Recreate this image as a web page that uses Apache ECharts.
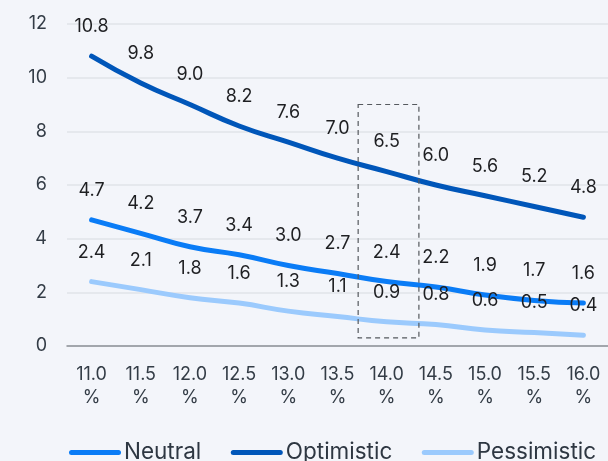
<!DOCTYPE html>
<html>
<head>
<meta charset="utf-8">
<script src="https://cdn.jsdelivr.net/npm/echarts@6/dist/echarts.min.js"></script>
<style>
html,body{margin:0;padding:0;background:#f3f5fa;}
#c{width:608px;height:461px;}
</style>
</head>
<body>
<div id="c"></div>
<script>
const categories = ["11.0%","11.5%","12.0%","12.5%","13.0%","13.5%","14.0%","14.5%","15.0%","15.5%","16.0%"];
const neutral     = [4.7, 4.2, 3.7, 3.4, 3.0, 2.7, 2.4, 2.2, 1.9, 1.7, 1.6];
const optimistic  = [10.8, 9.8, 9.0, 8.2, 7.6, 7.0, 6.5, 6.0, 5.6, 5.2, 4.8];
const pessimistic = [2.4, 2.1, 1.8, 1.6, 1.3, 1.1, 0.9, 0.8, 0.6, 0.5, 0.4];
const yTicks = [0, 2, 4, 6, 8, 10, 12];
const highlightCategory = "14.0%";
const highlightRange = [0.3, 9.0];

const FONT = "Inter";
const chart = echarts.init(document.getElementById('c'), null, {renderer: 'canvas'});

function lineSeries(name, data, color) {
  return {
    name: name,
    type: 'line',
    data: data,
    smooth: true,
    symbol: 'circle',
    symbolSize: 1,
    showSymbol: true,
    lineStyle: {color: color, width: 5, cap: 'round'},
    itemStyle: {color: color},
    label: {
      show: true,
      position: 'top',
      distance: 20,
      color: '#1e1f22',
      fontFamily: FONT,
      fontSize: 18,
      formatter: p => p.value.toFixed(1)
    },
    emphasis: {disabled: true}
  };
}

const legendIcon = 'path://M2.5,0 H49.5 A2.5,2.5 0 0 1 49.5,5 H2.5 A2.5,2.5 0 0 1 2.5,0 Z';

chart.setOption({
  backgroundColor: '#f3f5fa',
  animation: false,
  grid: {left: 67, top: 24, width: 542, bottom: 115, containLabel: false},
  xAxis: {
    type: 'category',
    data: categories,
    boundaryGap: true,
    axisLine: {show: true, lineStyle: {color: '#8c9096', width: 1.5}},
    axisTick: {show: false},
    axisLabel: {
      color: '#333c46',
      fontFamily: FONT,
      fontSize: 18,
      lineHeight: 23,
      margin: 17,
      interval: 0,
      formatter: v => v.replace('%', '\n%')
    }
  },
  yAxis: {
    type: 'value',
    min: yTicks[0],
    max: yTicks[yTicks.length - 1],
    interval: yTicks[1] - yTicks[0],
    axisLine: {show: false},
    axisTick: {show: false},
    splitLine: {lineStyle: {color: '#e1e3e8', width: 1.5}},
    axisLabel: {color: '#333c46', fontFamily: FONT, fontSize: 18, margin: 20}
  },
  legend: {
    left: 64,
    top: 436,
    itemWidth: 52,
    itemHeight: 5,
    itemGap: 29.5,
    icon: legendIcon,
    textStyle: {color: '#2e3742', fontFamily: FONT, fontSize: 22.5, padding: [0,0,0,-2]},
    data: ['Neutral', 'Optimistic', 'Pessimistic']
  },
  series: [
    lineSeries('Neutral', neutral, '#0a7cf6'),
    lineSeries('Optimistic', optimistic, '#0056b9'),
    lineSeries('Pessimistic', pessimistic, '#9bcafd')
  ]
});

const idx = categories.indexOf(highlightCategory);
const pTop = chart.convertToPixel({gridIndex: 0}, [idx, highlightRange[1]]);
const pBot = chart.convertToPixel({gridIndex: 0}, [idx, highlightRange[0]]);
const pNext = chart.convertToPixel({gridIndex: 0}, [idx + 1, highlightRange[0]]);
const band = pNext[0] - pBot[0];
const x0 = pTop[0] - band * 0.58;
const x1 = pTop[0] + band * 0.655;
chart.setOption({
  graphic: [{
    type: 'rect',
    shape: {x: x0, y: pTop[1], width: x1 - x0, height: pBot[1] - pTop[1]},
    style: {fill: 'none', stroke: '#55595e', lineWidth: 1.2, lineDash: [5, 4]},
    silent: true,
    z: 10
  }]
});
</script>
</body>
</html>
